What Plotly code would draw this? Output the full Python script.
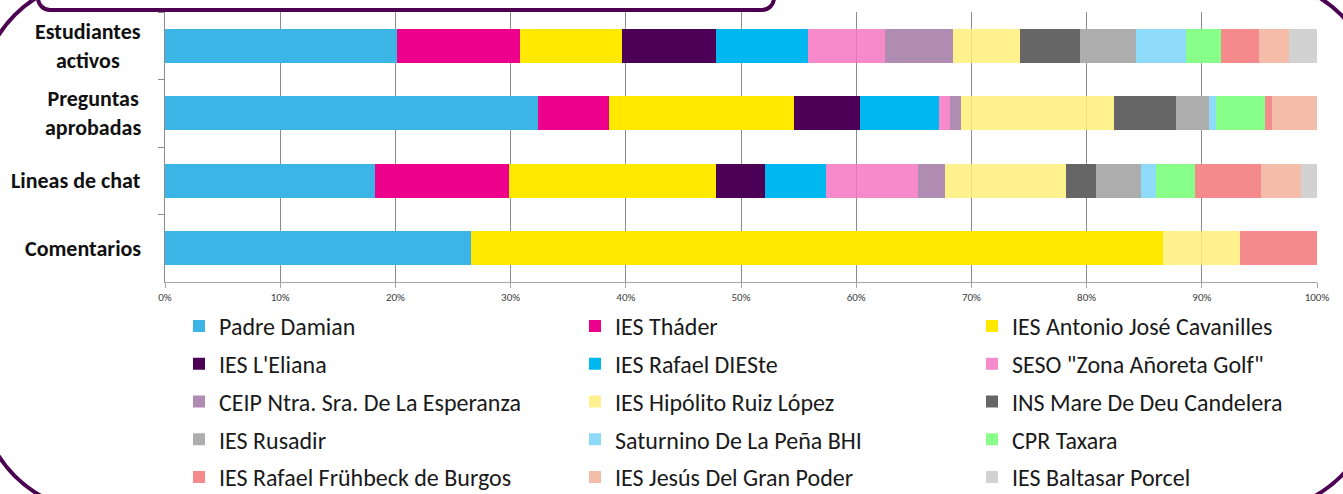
import plotly.graph_objects as go

# ---------------- data ----------------
rows = ["Estudiantes activos", "Preguntas aprobadas", "Lineas de chat", "Comentarios"]
row_labels = ["Estudiantes<br>activos", "Preguntas<br>aprobadas", "Lineas de chat", "Comentarios"]

schools = [
    "Padre Damian", "IES Tháder", "IES Antonio José Cavanilles",
    "IES L'Eliana", "IES Rafael DIESte", 'SESO "Zona Añoreta Golf"',
    "CEIP Ntra. Sra. De La Esperanza", "IES Hipólito Ruiz López", "INS Mare De Deu Candelera",
    "IES Rusadir", "Saturnino De La Peña BHI", "CPR Taxara",
    "IES Rafael Frühbeck de Burgos", "IES Jesús Del Gran Poder", "IES Baltasar Porcel",
]

# percentage share of each school in every row
estudiantes = [20.1, 10.7, 8.9, 8.1, 8.0, 6.7, 5.9, 5.8, 5.2, 4.9, 4.3, 3.1, 3.3, 2.6, 2.4]
preguntas   = [32.4, 6.1, 16.1, 5.7, 6.9, 0.9, 1.0, 13.3, 5.4, 2.8, 0.6, 4.3, 0.6, 3.9, 0.0]
lineas      = [18.2, 11.7, 17.9, 4.3, 5.3, 8.0, 2.3, 10.5, 2.6, 3.9, 1.3, 3.4, 5.7, 3.5, 1.4]
comentarios = [26.6, 0.0, 60.0, 0.0, 0.0, 0.0, 0.0, 6.7, 0.0, 0.0, 0.0, 0.0, 6.7, 0.0, 0.0]

x_tick_vals = [0, 10, 20, 30, 40, 50, 60, 70, 80, 90, 100]
x_tick_text = ["0%", "10%", "20%", "30%", "40%", "50%", "60%", "70%", "80%", "90%", "100%"]

colors = [
    "#3BB5E5", "#EC008C", "#FFE900",
    "#4B0055", "#00B7F0", "rgba(246,117,194,0.85)",
    "#B08BB2", "rgba(255,240,122,0.85)", "#666666",
    "#ADADAD", "#8DDBF8", "#88FF88",
    "#F58A8D", "#F3BDA9", "#D2D2D2",
]

# ---------------- layout geometry (pixels) ----------------
W, H = 1343, 494
ML, MR, MT, MB = 165, 26, 12, 212
PW, PH = W - ML - MR, H - MT - MB


def X(px):
    return (px - ML) / PW


def Y(py):
    return (H - MB - py) / PH


def rr_path(L, T, R, B, r):
    k = 0.5523 * r
    pts = [
        ("M", [(L + r, T)]),
        ("L", [(R - r, T)]),
        ("C", [(R - r + k, T), (R, T + r - k), (R, T + r)]),
        ("L", [(R, B - r)]),
        ("C", [(R, B - r + k), (R - r + k, B), (R - r, B)]),
        ("L", [(L + r, B)]),
        ("C", [(L + r - k, B), (L, B - r + k), (L, B - r)]),
        ("L", [(L, T + r)]),
        ("C", [(L, T + r - k), (L + r - k, T), (L + r, T)]),
    ]
    s = ""
    for cmd, ps in pts:
        s += cmd + " ".join(f"{X(a):.5f},{Y(b):.5f}" for a, b in ps) + " "
    return s + "Z"


FONT = "Carlito, Lato, 'Open Sans', sans-serif"
LEG_SIZE = 24
item_h = LEG_SIZE * 1.3 + 3
row_pitch = 37.75

fig = go.Figure()
legend_ids = ["legend", "legend2", "legend3"]
for i, name in enumerate(schools):
    fig.add_trace(go.Bar(
        y=rows,
        x=[estudiantes[i], preguntas[i], lineas[i], comentarios[i]],
        name=name,
        orientation="h",
        marker=dict(color=colors[i], line=dict(width=0)),
        legend=legend_ids[i % 3],
        legendgroup=name,
    ))

legend_x_px = [179, 575, 972]
legend_top_px = 327.5 - (item_h / 2 + 5) - 1.5
legend_common = dict(
    orientation="v", xanchor="left", yanchor="top",
    y=Y(legend_top_px), traceorder="grouped", tracegroupgap=row_pitch - item_h,
    bgcolor="rgba(0,0,0,0)", borderwidth=0,
    font=dict(family=FONT, size=LEG_SIZE, color="#1A1A1A"),
    itemclick=False, itemdoubleclick=False,
)

annotations = []
for key, lab in zip(rows, row_labels):
    annotations.append(dict(
        x=X(143), xref="paper", y=key, yref="y",
        text=lab, showarrow=False, xanchor="right", yanchor="middle",
        align="center",
        font=dict(family=FONT, size=22, color="#111111", weight="bold"),
    ))

frame_color = "#4B0050"
shapes = [
    dict(type="path", xref="paper", yref="paper",
         path=rr_path(-20, -20, 1376, 511, 119),
         line=dict(color=frame_color, width=4), fillcolor="rgba(0,0,0,0)", layer="above"),
    dict(type="path", xref="paper", yref="paper",
         path=rr_path(38, -40, 774, 10, 12),
         line=dict(color=frame_color, width=4), fillcolor="rgba(0,0,0,0)", layer="above"),
]

fig.update_layout(
    width=W, height=H,
    margin=dict(l=ML, r=MR, t=MT, b=MB, autoexpand=False),
    paper_bgcolor="white", plot_bgcolor="white",
    barmode="stack", bargap=0.49,
    showlegend=True,
    legend=dict(legend_common, x=X(legend_x_px[0])),
    legend2=dict(legend_common, x=X(legend_x_px[1])),
    legend3=dict(legend_common, x=X(legend_x_px[2])),
    annotations=annotations,
    shapes=shapes,
    xaxis=dict(
        range=[0, 100], tickvals=x_tick_vals, ticktext=x_tick_text,
        showgrid=True, gridcolor="#8C8C8C", gridwidth=1,
        showline=True, linecolor="#A6A6A6", linewidth=1,
        ticks="outside", ticklen=5, tickcolor="#A6A6A6",
        zeroline=False, fixedrange=True,
        tickfont=dict(family=FONT, size=11, color="#404040"),
    ),
    yaxis=dict(
        autorange="reversed", type="category",
        showticklabels=False, showgrid=False,
        showline=True, linecolor="#8C8C8C", linewidth=1,
        ticks="outside", tickson="boundaries", ticklen=6, tickcolor="#8C8C8C",
        fixedrange=True,
    ),
)

fig.write_html("out.html")
